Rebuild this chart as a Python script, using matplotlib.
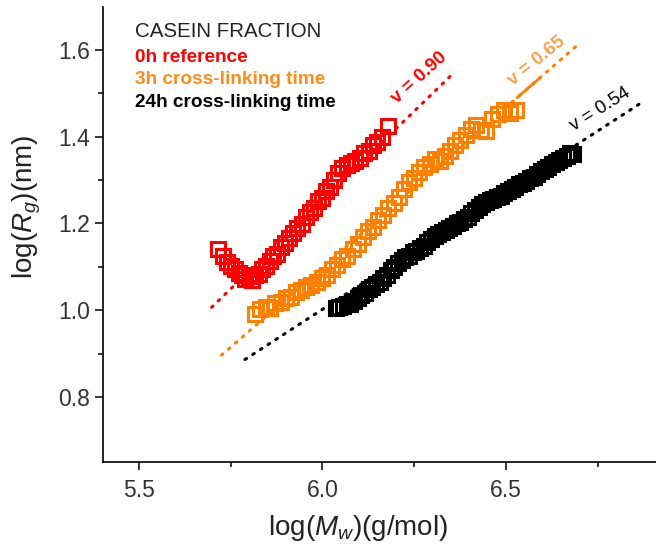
import matplotlib
matplotlib.use("Agg")
import matplotlib.pyplot as plt
import numpy as np

plt.rcParams['font.family'] = ['Liberation Sans', 'DejaVu Sans']
plt.rcParams['mathtext.fontset'] = 'custom'
plt.rcParams['mathtext.rm'] = 'Liberation Sans'
plt.rcParams['mathtext.it'] = 'Liberation Sans:italic'

# 0h reference (red)
x_0h = [5.715, 5.728, 5.740, 5.752, 5.762, 5.772, 5.781, 5.790, 5.799, 5.808,
        5.817, 5.826, 5.835, 5.845, 5.856, 5.866, 5.877, 5.888, 5.899, 5.910,
        5.921, 5.932, 5.944, 5.955, 5.966, 5.977, 5.988, 5.999, 6.010, 6.021,
        6.032, 6.043, 6.054, 6.066, 6.078, 6.090, 6.102, 6.114, 6.126, 6.138,
        6.150, 6.162, 6.178]
y_0h = [1.140, 1.126, 1.112, 1.101, 1.094, 1.085, 1.081, 1.072, 1.078, 1.070,
        1.080, 1.084, 1.096, 1.103, 1.114, 1.126, 1.130, 1.146, 1.154, 1.166,
        1.178, 1.190, 1.199, 1.214, 1.226, 1.236, 1.251, 1.259, 1.274, 1.283,
        1.300, 1.316, 1.328, 1.334, 1.339, 1.344, 1.350, 1.362, 1.368, 1.381,
        1.388, 1.400, 1.425]

# 3h cross-linking (orange)
x_3h = [5.816, 5.830, 5.845, 5.858, 5.872, 5.886, 5.900, 5.914, 5.928, 5.942,
        5.956, 5.970, 5.984, 5.998, 6.012, 6.026, 6.040, 6.054, 6.068, 6.082,
        6.096, 6.110, 6.124, 6.138, 6.152, 6.166, 6.180, 6.194, 6.208, 6.222,
        6.236, 6.250, 6.264, 6.278, 6.292, 6.306, 6.320, 6.334, 6.348, 6.362,
        6.376, 6.390, 6.404, 6.418, 6.432, 6.447, 6.462, 6.478, 6.494, 6.510,
        6.528]
y_3h = [0.992, 1.003, 1.008, 1.004, 1.016, 1.019, 1.027, 1.031, 1.042, 1.046,
        1.054, 1.057, 1.066, 1.074, 1.082, 1.094, 1.104, 1.118, 1.126, 1.142,
        1.152, 1.168, 1.182, 1.192, 1.208, 1.219, 1.236, 1.248, 1.262, 1.280,
        1.295, 1.304, 1.318, 1.330, 1.338, 1.349, 1.343, 1.356, 1.366, 1.380,
        1.392, 1.405, 1.418, 1.428, 1.416, 1.412, 1.440, 1.452, 1.461, 1.455,
        1.462]

# 24h cross-linking (black)
x_24h = [6.036, 6.046, 6.056, 6.066, 6.076, 6.086, 6.096, 6.106, 6.116, 6.126,
         6.136, 6.146, 6.156, 6.166, 6.176, 6.186, 6.196, 6.206, 6.216, 6.226,
         6.236, 6.246, 6.256, 6.266, 6.276, 6.286, 6.296, 6.306, 6.316, 6.326,
         6.336, 6.346, 6.356, 6.366, 6.376, 6.386, 6.396, 6.406, 6.416, 6.426,
         6.436, 6.446, 6.456, 6.466, 6.476, 6.486, 6.496, 6.506, 6.516, 6.526,
         6.536, 6.546, 6.556, 6.566, 6.576, 6.586, 6.596, 6.606, 6.616, 6.626,
         6.636, 6.646, 6.656, 6.666, 6.676, 6.684]
y_24h = [1.004, 1.008, 1.010, 1.014, 1.015, 1.022, 1.027, 1.035, 1.040, 1.049,
         1.053, 1.061, 1.066, 1.075, 1.082, 1.092, 1.099, 1.109, 1.116, 1.122,
         1.126, 1.134, 1.137, 1.143, 1.149, 1.158, 1.163, 1.170, 1.175, 1.180,
         1.186, 1.190, 1.195, 1.200, 1.203, 1.210, 1.215, 1.223, 1.230, 1.238,
         1.244, 1.249, 1.253, 1.257, 1.261, 1.264, 1.270, 1.274, 1.280, 1.284,
         1.290, 1.294, 1.298, 1.304, 1.308, 1.315, 1.321, 1.326, 1.331, 1.336,
         1.342, 1.347, 1.352, 1.356, 1.362, 1.360]

# linear fits: slope, intercept, x range
fit_slopes = [0.819, 0.737, 0.548]
fit_intercepts = [-3.660, -3.323, -2.286]
fit_xmin = [5.698, 5.725, 5.789]
fit_xmax = [6.361, 6.696, 6.874]
fit_labels = ['v = 0.90', 'v = 0.65', 'v = 0.54']
label_pos = [(6.263, 1.535), (6.584, 1.575), (6.756, 1.462)]
label_rot = [42, 39, 32]
label_colors = ['#FF0000', '#F7A04D', '#000000']
label_weights = ['bold', 'bold', 'normal']

series_names = ['0h reference', '3h cross-linking time', '24h cross-linking time']
colors = ['#FF0000', '#FF8000', '#000000']
text_colors = ['#FF0000', '#FF8C1A', '#000000']

fig = plt.figure(figsize=(6.56, 5.5), dpi=100)
ax = fig.add_axes([103/656, 88/550, 553/656, 455/550])

data = [(x_0h, y_0h), (x_3h, y_3h), (x_24h, y_24h)]
for i, (xs, ys) in enumerate(data):
    xf = np.linspace(fit_xmin[i], fit_xmax[i], 50)
    yf = fit_slopes[i] * xf + fit_intercepts[i]
    ax.plot(xf, yf, linestyle=(0, (0.6, 2.4)), color=colors[i], lw=2.2,
            dash_capstyle='round', zorder=1)
    ax.plot(xs, ys, 's', ms=9.5, mfc='none', mec=colors[i], mew=2.2, zorder=2)
    ax.text(label_pos[i][0], label_pos[i][1], fit_labels[i], rotation=label_rot[i],
            color=label_colors[i], fontsize=13.5, fontweight=label_weights[i],
            ha='center', va='center', rotation_mode='anchor')

# solid piece of the orange fit just past the markers
xs_seg = np.linspace(6.531, 6.593, 10)
ax.plot(xs_seg, fit_slopes[1] * xs_seg + fit_intercepts[1], color=colors[1], lw=2.0, zorder=1)

ax.text(0.057, 0.968, 'CASEIN FRACTION', transform=ax.transAxes, fontsize=14.8,
        color='#222222', ha='left', va='top')
for i, name in enumerate(series_names):
    ax.text(0.058, 0.908 - i * 0.0495, name, transform=ax.transAxes, fontsize=13.7,
            fontweight='bold', color=text_colors[i], ha='left', va='top')

ax.set_xlim(5.402, 6.909)
ax.set_ylim(0.650, 1.699)
ax.set_xticks([5.5, 6.0, 6.5])
ax.set_xticks([5.75, 6.25, 6.75], minor=True)
ax.set_yticks([0.8, 1.0, 1.2, 1.4, 1.6])
ax.set_yticks([0.9, 1.1, 1.3, 1.5], minor=True)
ax.set_xticklabels(['5.5', '6.0', '6.5'])
ax.set_yticklabels(['0.8', '1.0', '1.2', '1.4', '1.6'])
ax.tick_params(which='major', direction='out', length=6, width=1.1, labelsize=16.5,
               colors='black', labelcolor='#333333')
ax.tick_params(axis='x', which='major', pad=6)
ax.tick_params(which='minor', direction='out', length=3.5, width=1.1)
ax.spines['top'].set_visible(False)
ax.spines['right'].set_visible(False)
ax.spines['left'].set_linewidth(1.2)
ax.spines['bottom'].set_linewidth(1.2)

# axis titles placed in figure pixels
fig.text(358 / 656, 1 - 528 / 550, r'log($M_w$)(g/mol)', fontsize=20,
         color='#222222', ha='center', va='center')
fig.text(27 / 656, 1 - 207 / 550, r'log($R_g$)(nm)', fontsize=20, rotation=90,
         color='#222222', ha='center', va='center')

fig.savefig('out.png', dpi=100)
